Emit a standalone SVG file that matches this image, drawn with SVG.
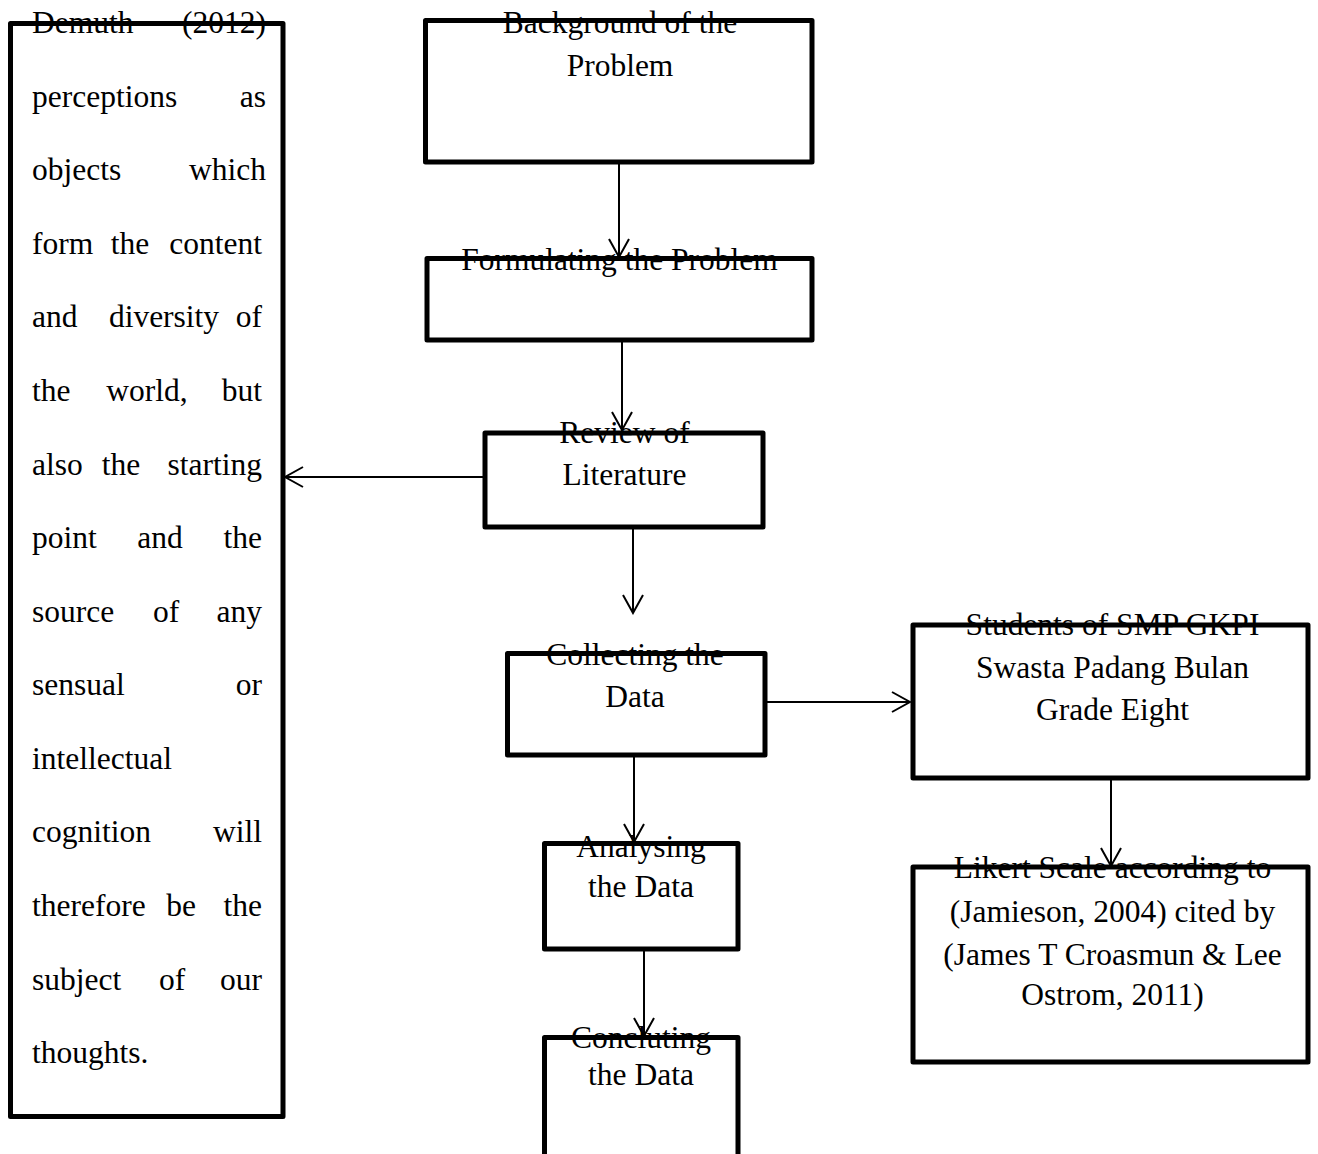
<svg xmlns="http://www.w3.org/2000/svg" width="1318" height="1154" viewBox="0 0 1318 1154">
<style>
.box{fill:none;stroke:#000;stroke-width:5;stroke-linejoin:round}
.t{font-family:"Liberation Serif","Times New Roman",serif;font-size:31.5px;fill:#000}
.c{text-anchor:middle}
.e{text-anchor:end}
.m{text-anchor:middle}
.con{stroke:#000;stroke-width:2;fill:none;marker-end:url(#ah)}
</style>
<defs>
<marker id="ah" markerUnits="userSpaceOnUse" viewBox="-20 -12 22 24" refX="0" refY="0" markerWidth="22" markerHeight="24" orient="auto">
<path d="M-18,-10 L0,0 L-18,10" fill="none" stroke="#000" stroke-width="2"/>
</marker>
</defs>
<rect width="1318" height="1154" fill="#fff"/>
<g id="connectors">
<line class="con" x1="619" y1="162" x2="619" y2="257"/>
<line class="con" x1="622" y1="340" x2="622" y2="430"/>
<line class="con" x1="633" y1="527" x2="633" y2="613"/>
<line class="con" x1="765" y1="702" x2="910" y2="702"/>
<line class="con" x1="634" y1="755" x2="634" y2="842"/>
<line class="con" x1="644" y1="949" x2="644" y2="1036"/>
<line class="con" x1="1111" y1="778" x2="1111" y2="866"/>
<line class="con" x1="485" y1="477" x2="285" y2="477"/>
</g>
<g id="perception">
<rect class="box" x="10.5" y="23.5" width="272.5" height="1093"/>
<text class="t" x="32" y="33">Demuth</text><text class="t e" x="266" y="33">(2012)</text>
<text class="t" x="32" y="107">perceptions</text><text class="t e" x="266" y="107">as</text>
<text class="t" x="32" y="180">objects</text><text class="t e" x="266" y="180">which</text>
<text class="t" x="32" y="254">form</text><text class="t m" x="130" y="254">the</text><text class="t e" x="262" y="254">content</text>
<text class="t" x="32" y="327">and</text><text class="t m" x="164" y="327">diversity</text><text class="t e" x="262" y="327">of</text>
<text class="t" x="32" y="401">the</text><text class="t m" x="147" y="401">world,</text><text class="t e" x="262" y="401">but</text>
<text class="t" x="32" y="475">also</text><text class="t m" x="121" y="475">the</text><text class="t e" x="262" y="475">starting</text>
<text class="t" x="32" y="548">point</text><text class="t m" x="160" y="548">and</text><text class="t e" x="262" y="548">the</text>
<text class="t" x="32" y="622">source</text><text class="t m" x="166" y="622">of</text><text class="t e" x="262" y="622">any</text>
<text class="t" x="32" y="695">sensual</text><text class="t e" x="262" y="695">or</text>
<text class="t" x="32" y="769">intellectual</text>
<text class="t" x="32" y="842">cognition</text><text class="t e" x="262" y="842">will</text>
<text class="t" x="32" y="916">therefore</text><text class="t m" x="181" y="916">be</text><text class="t e" x="262" y="916">the</text>
<text class="t" x="32" y="990">subject</text><text class="t m" x="172" y="990">of</text><text class="t e" x="262" y="990">our</text>
<text class="t" x="32" y="1063">thoughts.</text>
</g>
<g id="background">
<rect class="box" x="425.5" y="20.5" width="386.5" height="141.5"/>
<text class="t c" x="620" y="33">Background of the</text>
<text class="t c" x="620" y="76">Problem</text>
</g>
<g id="formulating">
<rect class="box" x="427" y="258.5" width="385" height="81.5"/>
<text class="t c" x="619.5" y="270">Formulating the Problem</text>
</g>
<g id="review">
<rect class="box" x="485" y="433" width="278" height="94"/>
<text class="t c" x="624.5" y="443">Review of</text>
<text class="t c" x="624.5" y="485">Literature</text>
</g>
<g id="collecting">
<rect class="box" x="507.5" y="653.5" width="257.5" height="101.5"/>
<text class="t c" x="635" y="665">Collecting the</text>
<text class="t c" x="635" y="707">Data</text>
</g>
<g id="students">
<rect class="box" x="913" y="625" width="395" height="153"/>
<text class="t c" x="1112.5" y="635">Students of SMP GKPI</text>
<text class="t c" x="1112.5" y="678">Swasta Padang Bulan</text>
<text class="t c" x="1112.5" y="720">Grade Eight</text>
</g>
<g id="likert">
<rect class="box" x="913" y="867" width="395" height="195"/>
<text class="t c" x="1112.5" y="878">Likert Scale according to</text>
<text class="t c" x="1112.5" y="922">(Jamieson, 2004) cited by</text>
<text class="t c" x="1112.5" y="965">(James T Croasmun &amp; Lee</text>
<text class="t c" x="1112.5" y="1005">Ostrom, 2011)</text>
</g>
<g id="analysing">
<rect class="box" x="544.5" y="843.5" width="193.5" height="105.5"/>
<text class="t c" x="641" y="857">Analysing</text>
<text class="t c" x="641" y="897">the Data</text>
</g>
<g id="concluting">
<rect class="box" x="544.5" y="1037.5" width="193.5" height="130"/>
<text class="t c" x="641" y="1048">Concluting</text>
<text class="t c" x="641" y="1085">the Data</text>
</g>
</svg>
